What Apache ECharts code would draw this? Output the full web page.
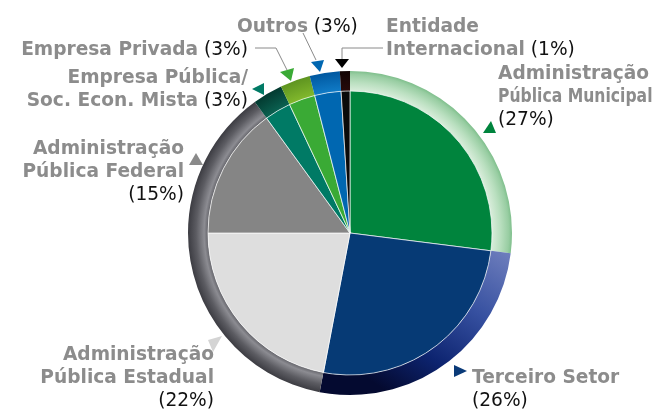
<!DOCTYPE html>
<html>
<head>
<meta charset="utf-8">
<script src="https://cdn.jsdelivr.net/npm/echarts@6/dist/echarts.min.js"></script>
<style>
  html, body { margin: 0; padding: 0; background: #fff; }
  #chart { width: 670px; height: 409px; }
</style>
</head>
<body>
<div id="chart"></div>
<script>
// data
const categories = [
  "Administração Pública Municipal",
  "Terceiro Setor",
  "Administração Pública Estadual",
  "Administração Pública Federal",
  "Empresa Pública/Soc. Econ. Mista",
  "Empresa Privada",
  "Outros",
  "Entidade Internacional",
];
const values = [27, 26, 22, 15, 3, 3, 3, 1];
// how each label is broken into lines; the percentage goes after the last line or on its own line
const labelLines = [
  ["Administração", "Pública Municipal"],
  ["Terceiro Setor"],
  ["Administração", "Pública Estadual"],
  ["Administração", "Pública Federal"],
  ["Empresa Pública/", "Soc. Econ. Mista"],
  ["Empresa Privada"],
  ["Outros"],
  ["Entidade", "Internacional"],
];
const pctOwnLine = [true, true, true, true, false, false, false, false];

// styling
const CX = 350, CY = 233, R_IN = 142, R_OUT = 162;
const sliceColors = ["#00843d", "#063a75", "#dedede", "#858585", "#007a65", "#3aaa35", "#0067b1", "#0a0a0a"];
const markColors = ["#00843d", "#0a3a78", "#d4d4d4", "#8a8a8a", "#007a65", "#3aaa35", "#0067b1", "#000000"];

function radial(stops) {
  return {
    type: "radial", x: CX, y: CY, r: R_OUT, global: true,
    colorStops: stops.map(([o, c]) => ({ offset: o, color: c })),
  };
}
const grayTube = [[0.86, "#4a4a50"], [0.9, "#8c8c92"], [0.95, "#5c5c62"], [1, "#3c3c42"]];
const ringColors = [
  radial([[0.86, "#e2f1e3"], [0.93, "#b9dfbf"], [0.98, "#98cda2"], [1, "#7fbf8c"]]),
  {
    type: "linear", x: 515, y: 225, x2: 400, y2: 400, global: true,
    colorStops: [
      { offset: 0, color: "#8490c8" }, { offset: 0.45, color: "#3650a0" },
      { offset: 0.75, color: "#0d2470" }, { offset: 1, color: "#040a30" },
    ],
  },
  radial(grayTube),
  radial(grayTube),
  radial([[0.86, "#0c6655"], [1, "#033a30"]]),
  radial([[0.86, "#86bd2e"], [1, "#5e9420"]]),
  radial([[0.86, "#1280cc"], [1, "#0058a0"]]),
  radial([[0.86, "#2a0a0a"], [1, "#120404"]]),
];

// label placement: anchor x, top y, alignment, horizontal squeeze per line
const labelPos = [
  { x: 498, y: 63, align: "left", squeeze: [1, 0.84, 1] },
  { x: 472, y: 367, align: "left" },
  { x: 214, y: 344, align: "right" },
  { x: 184, y: 138, align: "right" },
  { x: 248, y: 67, align: "right" },
  { x: 248, y: 39, align: "right" },
  { x: 237, y: 16, align: "left" },
  { x: 386, y: 16, align: "left" },
];
const markShapes = [
  [[483, 133], [496, 133], [491, 121]],
  [[454, 365], [454, 377], [467, 371]],
  [[208, 340], [222, 336], [213, 352]],
  [[189, 165], [203, 165], [196, 153]],
  [[252, 89], [264, 83], [264, 95]],
  [[280, 72], [294, 68], [291, 81]],
  [[311, 62], [324, 60], [320, 72]],
  [[335, 59], [349, 59], [342, 68]],
];
const leaders = [
  null, null, null, null, null,
  [[255, 48], [276, 48], [287, 70]],
  [[303, 33], [316, 60]],
  [[383, 48], [342, 48], [342, 59]],
];

const FONT = "DejaVu Sans";
const FS = 18.6, LH = 23;
const rich = {
  n: { fontFamily: FONT, fontSize: FS, fontWeight: "bold", fill: "#8c8c8c" },
  p: { fontFamily: FONT, fontSize: FS, fill: "#111111" },
};

function labelRows(i) {
  const pct = "{p|(" + values[i] + "%)}";
  const rows = labelLines[i].map((l) => "{n|" + l + "}");
  if (pctOwnLine[i]) rows.push(pct);
  else rows[rows.length - 1] += "{p| }" + pct;
  return rows;
}

const graphics = [];
categories.forEach((c, i) => {
  if (leaders[i]) {
    graphics.push({ type: "polyline", shape: { points: leaders[i] }, style: { stroke: "#8a8a8a", lineWidth: 1, fill: null } });
  }
  graphics.push({ type: "polygon", shape: { points: markShapes[i] }, style: { fill: markColors[i] } });
  const pos = labelPos[i];
  labelRows(i).forEach((row, k) => {
    const sx = pos.squeeze ? pos.squeeze[k] : 1;
    graphics.push({
      type: "text", x: pos.x, y: pos.y + k * LH, scaleX: sx,
      style: { text: row, rich: rich, align: pos.align, verticalAlign: "top", lineHeight: LH },
    });
  });
});

const chart = echarts.init(document.getElementById("chart"), null, { renderer: "canvas" });
chart.setOption({
  backgroundColor: "#ffffff",
  animation: false,
  series: [
    {
      type: "pie",
      center: [CX, CY],
      radius: [R_IN, R_OUT],
      startAngle: 90,
      clockwise: true,
      silent: true,
      label: { show: false },
      labelLine: { show: false },
      itemStyle: { borderWidth: 0 },
      data: categories.map((c, i) => ({ name: c, value: values[i], itemStyle: { color: ringColors[i] } })),
    },
    {
      type: "pie",
      center: [CX, CY],
      radius: [0, R_IN],
      startAngle: 90,
      clockwise: true,
      silent: true,
      label: { show: false },
      labelLine: { show: false },
      itemStyle: { borderColor: "rgba(255,255,255,0.85)", borderWidth: 0.8 },
      data: categories.map((c, i) => ({ name: c, value: values[i], itemStyle: { color: sliceColors[i] } })),
    },
  ],
  graphic: { elements: graphics },
});
</script>
</body>
</html>
